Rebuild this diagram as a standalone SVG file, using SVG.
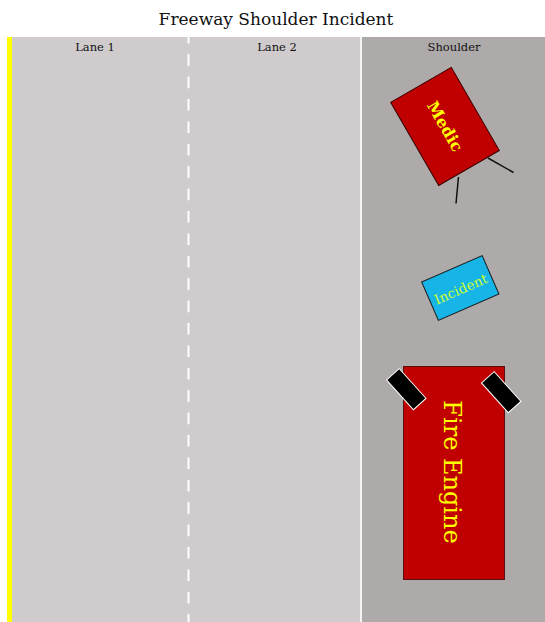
<svg xmlns="http://www.w3.org/2000/svg" width="545" height="622" viewBox="0 0 545 622">
  <style>
    .title { font-family: "DejaVu Serif", "Liberation Serif", serif; font-size: 17px; fill: #111; text-anchor: middle; }
    .lane { font-family: "DejaVu Serif", "Liberation Serif", serif; font-size: 11.5px; fill: #111; text-anchor: middle; }
    .vtxt { font-family: "DejaVu Serif", "Liberation Serif", serif; text-anchor: middle; dominant-baseline: central; }
    .mirror { fill: #000; stroke: #fff; stroke-width: 1; }
    .leg { stroke: #111; stroke-width: 1.5; }
  </style>
  <rect x="0" y="0" width="545" height="622" fill="#ffffff"/>
  <text class="title" x="276" y="25">Freeway Shoulder Incident</text>

  <g id="road">
    <rect x="12" y="37" width="349" height="585" fill="#d0cccd"/>
    <rect x="362" y="37" width="183" height="585" fill="#aeaaaa"/>
    <rect x="7" y="37" width="5" height="585" fill="#ffff00"/>
    <rect x="360" y="37" width="2" height="585" fill="#f4f4f4"/>
    <line x1="188.5" y1="37" x2="188.5" y2="622" stroke="#ffffff" stroke-width="2" stroke-dasharray="11.5 10.9" stroke-dashoffset="5.1"/>
    <text class="lane" x="95" y="51">Lane 1</text>
    <text class="lane" x="277" y="51">Lane 2</text>
    <text class="lane" x="454" y="51">Shoulder</text>
  </g>

  <g id="connectors">
    <line class="leg" x1="488" y1="158" x2="513.5" y2="172.5"/>
    <line class="leg" x1="458.5" y1="177" x2="456" y2="203.5"/>
  </g>

  <g id="medic">
    <g transform="translate(445 126.4) rotate(-30)">
      <rect x="-35" y="-48" width="70" height="96" fill="#c00000" stroke="#3a0000" stroke-width="1"/>
      <text class="vtxt" transform="rotate(90)" x="0" y="0" font-size="16" font-weight="bold" fill="#ffff00">Medic</text>
    </g>
  </g>

  <g id="incident">
    <g transform="translate(460.3 288) rotate(-23.5)">
      <rect x="-33" y="-21" width="66" height="42" fill="#17b4e8" stroke="#1a1a1a" stroke-width="1"/>
      <text class="vtxt" x="0" y="1" font-size="13.5" fill="#ccff33">Incident</text>
    </g>
  </g>

  <g id="fire-engine">
    <rect x="403.5" y="366.5" width="101" height="213" fill="#c00000" stroke="#5a1010" stroke-width="1"/>
    <text class="vtxt" transform="translate(452 472) rotate(90)" x="0" y="0" font-size="24" fill="#ffff00">Fire Engine</text>
    <rect class="mirror" x="-20" y="-8.5" width="40" height="17" transform="translate(406.3 389.2) rotate(48)"/>
    <rect class="mirror" x="-20" y="-8.5" width="40" height="17" transform="translate(501.2 392.2) rotate(48)"/>
  </g>
</svg>
